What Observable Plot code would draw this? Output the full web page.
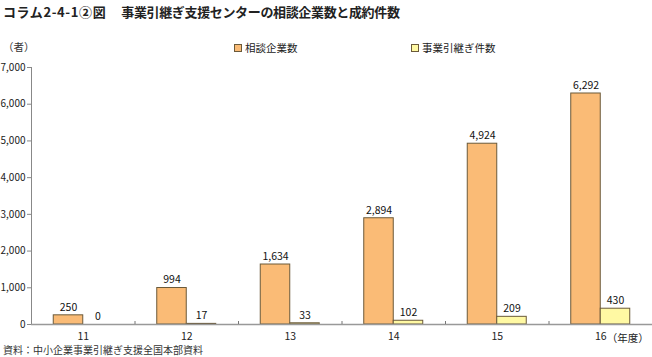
<!DOCTYPE html>
<html>
<head>
<meta charset="utf-8">
<script src="https://cdn.jsdelivr.net/npm/d3@7"></script>
<script src="https://cdn.jsdelivr.net/npm/@observablehq/plot@0.6"></script>
<style>
  body { margin: 0; background: #fff; font-family: "Noto Sans CJK JP", "Noto Sans", sans-serif; }
  #wrap { position: relative; width: 652px; height: 357px; overflow: hidden; }
  #title { position: absolute; left: 3px; top: 2px; font-size: 13px; font-weight: bold; color: #222; white-space: nowrap; }
  #t1 { letter-spacing: 0.6px; }
  #t2 { margin-left: 15px; letter-spacing: -0.35px; }
  #unit { position: absolute; left: 3px; top: 39px; font-size: 10.5px; color: #333; }
  .leg { position: absolute; top: 40px; font-size: 10.5px; color: #222; display: flex; align-items: center; white-space: nowrap; }
  .sw { width: 6px; height: 6px; margin-right: 3px; border: 1px solid #6b5a3a; }
  #chart { position: absolute; left: 0; top: 58px; }
  #caption { position: absolute; left: 3px; top: 342px; font-size: 10px; color: #333; white-space: nowrap; }
</style>
</head>
<body>
<div id="wrap">
  <div id="title"><span id="t1">コラム2-4-1②図</span><span id="t2">事業引継ぎ支援センターの相談企業数と成約件数</span></div>
  <div id="unit">（者）</div>
  <div class="leg" id="leg1" style="left:234px"><span class="sw" id="sw1"></span><span id="lt1"></span></div>
  <div class="leg" id="leg2" style="left:411px"><span class="sw" id="sw2"></span><span id="lt2"></span></div>
  <div id="chart"></div>
  <div id="caption">資料：中小企業事業引継ぎ支援全国本部資料</div>
</div>
<script>
const years = ["11", "12", "13", "14", "15", "16"];
const consultations = [250, 994, 1634, 2894, 4924, 6292];
const deals = [0, 17, 33, 102, 209, 430];
const seriesNames = ["相談企業数", "事業引継ぎ件数"];
const seriesColors = ["#FABB76", "#FFF9A3"];
const yTicks = [0, 1000, 2000, 3000, 4000, 5000, 6000, 7000];
const yearUnit = "（年度）";

document.getElementById("lt1").textContent = seriesNames[0];
document.getElementById("lt2").textContent = seriesNames[1];
document.getElementById("sw1").style.background = seriesColors[0];
document.getElementById("sw2").style.background = seriesColors[1];

const halfW = 0.285;
const data = [];
years.forEach((y, i) => {
  data.push({i, series: seriesNames[0], value: consultations[i], x1: i - halfW, x2: i});
  data.push({i, series: seriesNames[1], value: deals[i], x1: i, x2: i + halfW});
});
const bounds = years.map((y, i) => i + 0.5);
const fmt = d3.format(",");

const chart = Plot.plot({
  width: 652,
  height: 286,
  marginLeft: 31,
  marginRight: 0,
  marginTop: 9,
  marginBottom: 20,
  style: { fontFamily: "'Noto Sans CJK JP', sans-serif", fontSize: "10px", color: "#222", background: "transparent" },
  x: { domain: [-0.5, years.length - 0.5], axis: null },
  y: { domain: [0, 7000], axis: null },
  color: { domain: seriesNames, range: seriesColors },
  marks: [
    Plot.axisY({ ticks: yTicks, tickFormat: fmt, tickSize: 4, tickPadding: 2, stroke: "#888", fill: "#222", label: null, fontSize: 10 }),
    Plot.ruleX([-0.5], { stroke: "#888" }),
    Plot.rectY(data, { x1: "x1", x2: "x2", y: "value", fill: "series", stroke: "#6b5a3a", strokeWidth: 1 }),
    Plot.ruleY([0], { stroke: "#999", strokeWidth: 1.5 }),
    Plot.ruleX(bounds, { y1: 0, y2: 0, insetBottom: 3, stroke: "#777" }),
    Plot.axisX({ ticks: years.map((y, i) => i), tickFormat: i => years[i], tickSize: 0, tickPadding: 8, fill: "#222", label: null, fontSize: 10.5 }),
    Plot.text([yearUnit], { x: years.length - 1, y: 0, dx: 6, dy: 14, textAnchor: "start", fill: "#222", fontSize: 10.5 }),
    Plot.text(data, { x: d => (d.x1 + d.x2) / 2, y: "value", text: d => fmt(d.value), dy: -8, fill: "#111", fontSize: 10.5 })
  ]
});
document.getElementById("chart").appendChild(chart);
</script>
</body>
</html>
